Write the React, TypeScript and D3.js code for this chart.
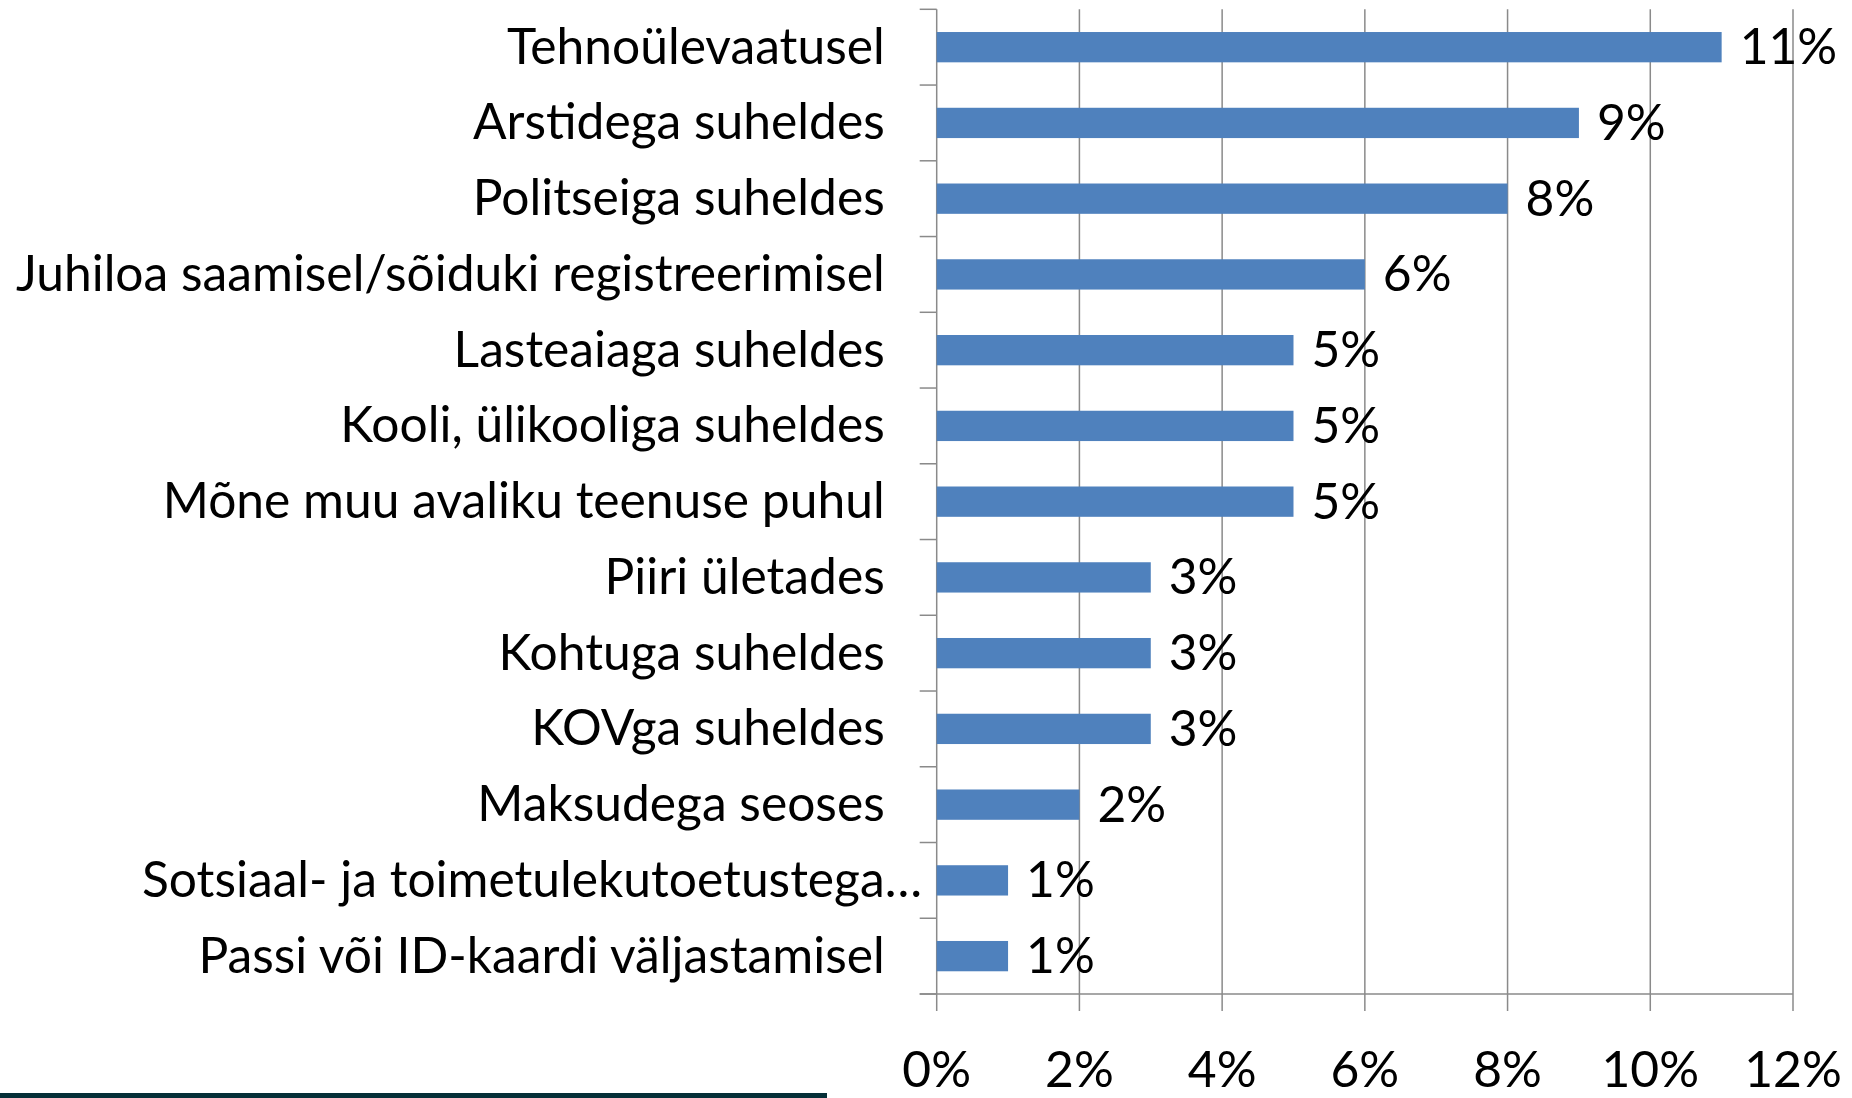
import React from "react";
import * as d3 from "d3";

const categories = [
  "Tehnoülevaatusel",
  "Arstidega suheldes",
  "Politseiga suheldes",
  "Juhiloa saamisel/sõiduki registreerimisel",
  "Lasteaiaga suheldes",
  "Kooli, ülikooliga suheldes",
  "Mõne muu avaliku teenuse puhul",
  "Piiri ületades",
  "Kohtuga suheldes",
  "KOVga suheldes",
  "Maksudega seoses",
  "Sotsiaal- ja toimetulekutoetustega…",
  "Passi või ID-kaardi väljastamisel",
];
const values = [11, 9, 8, 6, 5, 5, 5, 3, 3, 3, 2, 1, 1];
const xTicks = [0, 2, 4, 6, 8, 10, 12];

const W = 1852;
const H = 1098;
const FONT = "Lato, 'Open Sans', sans-serif";
const FS = 50;
const SX = 0.995;
const GRID = "#8a8a8a";

const App = () => {
  const x = d3.scaleLinear().domain([0, 12]).range([936.7, 1793]);
  const y = d3
    .scaleBand<string>()
    .domain(categories)
    .range([9.3, 994])
    .paddingInner(0.6)
    .paddingOuter(0.3);
  const step = y.step();
  const [top, bottom] = y.range();
  const x0 = x(0);
  const labelRight = x0 - 52;

  return (
    <svg
      width={W}
      height={H}
      style={{ position: "absolute", left: 0, top: 0, background: "#fff" }}
    >
      {/* gridlines + bottom ticks */}
      {xTicks.map((t) => (
        <line key={"g" + t} x1={x(t)} x2={x(t)} y1={top} y2={bottom + 17} stroke={GRID} strokeWidth={1.5} />
      ))}
      {/* category ticks */}
      {d3.range(categories.length + 1).map((i) => (
        <line key={"c" + i} x1={x0 - 17} x2={x0} y1={top + i * step} y2={top + i * step} stroke={GRID} strokeWidth={1.5} />
      ))}
      <line x1={x0 - 17} x2={x(12)} y1={bottom} y2={bottom} stroke={GRID} strokeWidth={1.5} />

      {categories.map((c, i) => {
        const cy = (y(c) ?? 0) + y.bandwidth() / 2;
        const trunc = c.endsWith("…");
        const txt = trunc ? c.slice(0, -1) : c;
        return (
          <g key={c}>
            <rect x={x0} y={y(c)} width={x(values[i]) - x0} height={y.bandwidth()} fill="#4f81bd" />
            <g transform={`translate(${labelRight},${cy + 16.5}) scale(${SX},1)`}>
              <text textAnchor="end" fontFamily={FONT} fontSize={FS} fill="#000">{txt}</text>
              {trunc && <text textAnchor="start" fontFamily={FONT} fontSize={FS} fill="#000">…</text>}
            </g>
            <g transform={`translate(${x(values[i]) + 18},${cy + 17}) scale(${SX},1)`}>
              <text fontFamily={FONT} fontSize={FS} fill="#000">{values[i]}%</text>
            </g>
          </g>
        );
      })}

      {xTicks.map((t) => (
        <g key={"t" + t} transform={`translate(${x(t)},1087) scale(${SX},1)`}>
          <text textAnchor="middle" fontFamily={FONT} fontSize={FS} fill="#000">{t}%</text>
        </g>
      ))}

      <rect x={0} y={1093} width={827} height={5} fill="#052f37" />
    </svg>
  );
};

export default App;
